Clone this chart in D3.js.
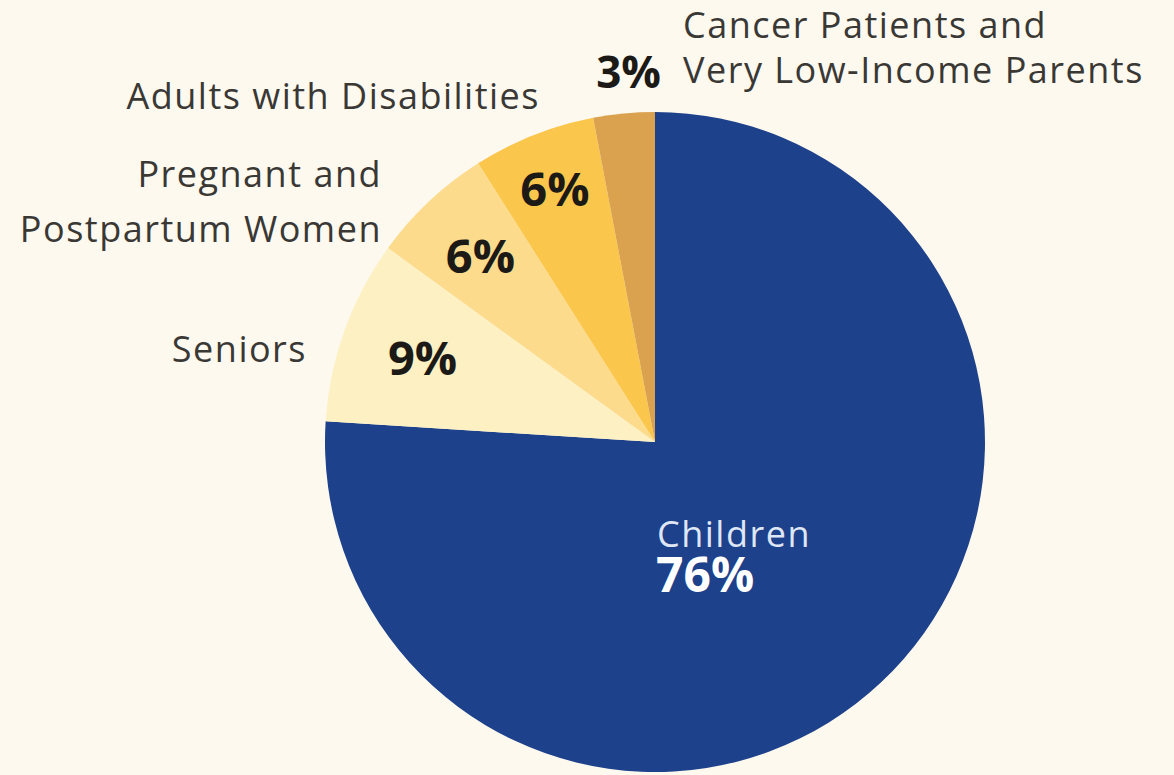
<!DOCTYPE html>
<html>
<head>
<meta charset="utf-8">
<script src="https://cdn.jsdelivr.net/npm/d3@7"></script>
<style>
  html, body { margin: 0; padding: 0; background: #fdf9ef; }
  svg { display: block; }
  text { font-family: "Open Sans", Lato, sans-serif; }
</style>
</head>
<body>
<svg id="chart" width="1174" height="775"></svg>
<script>
const categories = ["Children", "Seniors", "Pregnant and Postpartum Women", "Adults with Disabilities", "Cancer Patients and Very Low-Income Parents"];
const values = [76, 9, 6, 6, 3];
const percentLabels = ["76%", "9%", "6%", "6%", "3%"];
const colors = ["#1d418b", "#fdf0c2", "#fcdb8c", "#fbc64c", "#daa24f"];

const W = 1174, H = 775;
const cx = 655, cy = 442, R = 330;
const catSize = 36, pctSize = 47, spacing = 1.5;

const svg = d3.select("#chart");
svg.append("rect").attr("width", W).attr("height", H).attr("fill", "#fdf9ef");

const g = svg.append("g").attr("transform", `translate(${cx},${cy})`);

const pie = d3.pie().value(d => d).sort(null);
const arcs = pie(values);
const arc = d3.arc().innerRadius(0).outerRadius(R);

g.selectAll("path.slice")
  .data(arcs)
  .join("path")
  .attr("class", "slice")
  .attr("d", arc)
  .attr("fill", (d, i) => colors[i]);

// percent labels inside the small slices
const labelRadius = [0, 247, 255, 272, 0];
[1, 2, 3].forEach(i => {
  const a = d3.arc().innerRadius(labelRadius[i]).outerRadius(labelRadius[i]);
  const [x, y] = a.centroid(arcs[i]);
  g.append("text")
    .attr("x", x).attr("y", y)
    .attr("dy", "0.36em")
    .attr("text-anchor", "middle")
    .attr("font-size", pctSize)
    .attr("font-weight", 700)
    .attr("fill", "#1c1a17")
    .text(percentLabels[i]);
});

// Children label (one text element, two lines)
const ch = g.append("text");
ch.append("tspan")
  .attr("x", 2).attr("y", 105)
  .attr("font-size", catSize)
  .attr("letter-spacing", spacing)
  .attr("fill", "#dfe6f5")
  .text(categories[0]);
ch.append("tspan")
  .attr("x", 1).attr("y", 150)
  .attr("font-size", pctSize + 1)
  .attr("font-weight", 700)
  .attr("fill", "#ffffff")
  .text(percentLabels[0]);

// outside category labels
const labelColor = "#3a3835";
function outLabel(lines, x, y, anchor, lh) {
  const t = svg.append("text")
    .attr("text-anchor", anchor)
    .attr("font-size", catSize)
    .attr("letter-spacing", spacing)
    .attr("fill", labelColor);
  lines.forEach((l, k) => {
    t.append("tspan").attr("x", x).attr("y", y + k * lh).text(l);
  });
}
outLabel(["Seniors"], 307, 362, "end", 55);
outLabel(["Pregnant and", "Postpartum Women"], 382, 187, "end", 55);
outLabel(["Adults with Disabilities"], 540, 109, "end", 55);
outLabel(["Cancer Patients and", "Very Low-Income Parents"], 683, 38, "start", 45);

svg.append("text")
  .attr("x", 661).attr("y", 88)
  .attr("text-anchor", "end")
  .attr("font-size", pctSize - 3)
  .attr("font-weight", 700)
  .attr("fill", "#1c1a17")
  .text(percentLabels[4]);
</script>
</body>
</html>
